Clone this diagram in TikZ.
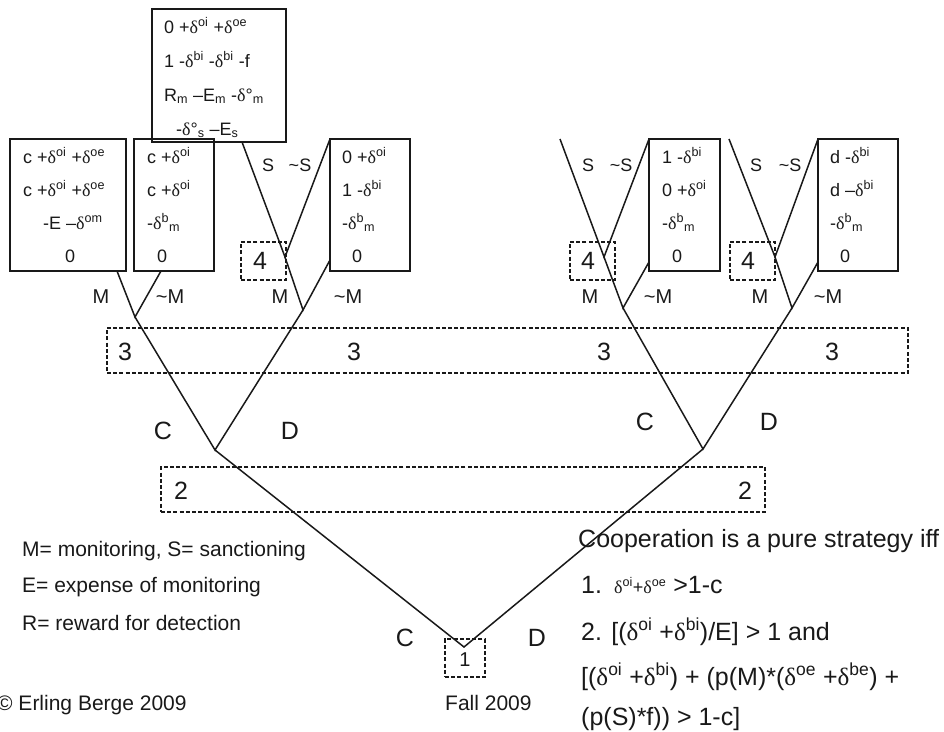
\documentclass[tikz,border=0pt]{standalone}
\usepackage{fontspec}
\setmainfont{Liberation Sans}
\newfontfamily\serf{Liberation Serif}
\newcommand\dl{{\serf δ}}
\newcommand\sps[1]{\textsuperscript{#1}}
\newcommand\sbs[1]{\textsubscript{#1}}
\usetikzlibrary{calc}
\begin{document}
\begin{tikzpicture}[x=1pt,y=-1pt,
  edge/.style={line width=1.5pt, black!90},
  paybox/.style={draw, line width=1.5pt, black!90, inner sep=0pt, rectangle},
  infoset/.style={draw, line width=1.3pt, black!90, dash pattern=on 4pt off 2.2pt, inner sep=0pt, rectangle},
  bt/.style={anchor=base west, inner sep=0pt, text=black!90, font=\fontsize{18}{20}\selectfont},
  mlab/.style={inner sep=0pt, text=black!90, font=\fontsize{20}{22}\selectfont},
  slab/.style={inner sep=0pt, text=black!90, font=\fontsize{18}{20}\selectfont},
  big/.style={inner sep=0pt, text=black!90, font=\fontsize{25}{28}\selectfont},
  lt/.style={anchor=base west, inner sep=0pt, text=black!90, font=\fontsize{21}{24}\selectfont},
  rt/.style={anchor=base west, inner sep=0pt, text=black!90, font=\fontsize{25}{28}\selectfont},
]
\useasboundingbox (0,0) rectangle (944,731);

% payoff boxes
\node[paybox, minimum width=134pt, minimum height=133pt] (bT) at (219,75.5) {};
\node[paybox, minimum width=116pt, minimum height=132pt] (bA) at (68,205) {};
\node[paybox, minimum width=80pt, minimum height=132pt] (bB) at (174,205) {};
\node[paybox, minimum width=80pt, minimum height=132pt] (bC) at (370,205) {};
\node[paybox, minimum width=71pt, minimum height=132pt] (bD) at (684.5,205) {};
\node[paybox, minimum width=80pt, minimum height=132pt] (bE) at (858,205) {};

% information sets
\node[infoset, minimum width=45pt, minimum height=38pt] (i4a) at (263.5,261) {};
\node[infoset, minimum width=45pt, minimum height=38pt] (i4b) at (592.5,261) {};
\node[infoset, minimum width=45pt, minimum height=38pt] (i4c) at (752.5,261) {};
\node[infoset, minimum width=801pt, minimum height=45pt] (i3) at (507.5,350.5) {};
\node[infoset, minimum width=604pt, minimum height=45pt] (i2) at (463,489.5) {};
\node[infoset, minimum width=40pt, minimum height=38pt] (i1) at (465,658) {};

% tree vertices
\coordinate (n1) at (464,647);
\coordinate (n2L) at (215,450);
\coordinate (n2R) at (703,449);
\coordinate (n3a) at (135,317);
\coordinate (n3b) at (303,310);
\coordinate (n3c) at (623,308);
\coordinate (n3d) at (792,308);
\coordinate (n4a) at (285,257);
\coordinate (n4b) at (604,257);
\coordinate (n4c) at (775,257);
% connector ends
\coordinate (eAm) at (117,271);
\coordinate (eBm) at (161,271);
\coordinate (eCm) at (330,260);
\coordinate (eDm) at (649,262);
\coordinate (eEm) at (818,262);
\coordinate (eTs) at (242,142);
\coordinate (eCs) at (330,139);
\coordinate (eDs) at (649,139);
\coordinate (eEs) at (818,139);
\coordinate (fS4b) at (560,139);
\coordinate (fS4c) at (729,139);

\draw[edge] (n2L) -- (n1) -- (n2R);
\draw[edge] (n3a) -- (n2L) -- (n3b);
\draw[edge] (n3c) -- (n2R) -- (n3d);
\draw[edge] (eAm) -- (n3a) -- (eBm);
\draw[edge] (n4a) -- (n3b) -- (eCm);
\draw[edge] (n4b) -- (n3c) -- (eDm);
\draw[edge] (n4c) -- (n3d) -- (eEm);
\draw[edge] (eTs) -- (n4a) -- (eCs);
\draw[edge] (fS4b) -- (n4b) -- (eDs);
\draw[edge] (fS4c) -- (n4c) -- (eEs);

% payoff texts
\node[bt] (tT1) at (164,33) {0 +\dl\sps{oi} +\dl\sps{oe}};
\node[bt] (tT2) at (164,67) {1 -\dl\sps{bi} -\dl\sps{bi} -f};
\node[bt] (tT3) at (164,101) {R\sbs{m} –E\sbs{m} -\dl°\sbs{m}};
\node[bt] (tT4) at (176,135) {-\dl°\sbs{s} –E\sbs{s}};

\node[bt] (tA1) at (23,163) {c +\dl\sps{oi} +\dl\sps{oe}};
\node[bt] (tA2) at (23,196) {c +\dl\sps{oi} +\dl\sps{oe}};
\node[bt] (tA3) at (43,229) {-E –\dl\sps{om}};
\node[bt] (tA4) at (65,262) {0};

\node[bt] (tB1) at (147,163) {c +\dl\sps{oi}};
\node[bt] (tB2) at (147,196) {c +\dl\sps{oi}};
\node[bt] (tB3) at (147,229) {-\dl\sps{b}\sbs{m}};
\node[bt] (tB4) at (157,262) {0};

\node[bt] (tC1) at (342,163) {0 +\dl\sps{oi}};
\node[bt] (tC2) at (342,196) {1 -\dl\sps{bi}};
\node[bt] (tC3) at (342,229) {-\dl\sps{b}\sbs{m}};
\node[bt] (tC4) at (352,262) {0};

\node[bt] (tD1) at (662,163) {1 -\dl\sps{bi}};
\node[bt] (tD2) at (662,196) {0 +\dl\sps{oi}};
\node[bt] (tD3) at (662,229) {-\dl\sps{b}\sbs{m}};
\node[bt] (tD4) at (672,262) {0};

\node[bt] (tE1) at (830,163) {d -\dl\sps{bi}};
\node[bt] (tE2) at (830,196) {d –\dl\sps{bi}};
\node[bt] (tE3) at (830,229) {-\dl\sps{b}\sbs{m}};
\node[bt] (tE4) at (840,262) {0};

% move labels
\node[slab] (s1) at (268,165) {S};
\node[slab] (ns1) at (300,165) {\textasciitilde S};
\node[slab] (s2) at (588,165) {S};
\node[slab] (ns2) at (621,165) {\textasciitilde S};
\node[slab] (s3) at (756,165) {S};
\node[slab] (ns3) at (790,165) {\textasciitilde S};

\node[mlab] (m1) at (101,297) {M};
\node[mlab] (nm1) at (170,297) {\textasciitilde M};
\node[mlab] (m2) at (280,297) {M};
\node[mlab] (nm2) at (348,297) {\textasciitilde M};
\node[mlab] (m3) at (590,297) {M};
\node[mlab] (nm3) at (658,297) {\textasciitilde M};
\node[mlab] (m4) at (760,297) {M};
\node[mlab] (nm4) at (828,297) {\textasciitilde M};

\node[big] (f4a) at (260,261) {4};
\node[big] (f4b) at (588,261) {4};
\node[big] (f4c) at (748,261) {4};

\node[big] (p3a) at (125,352) {3};
\node[big] (p3b) at (354,352) {3};
\node[big] (p3c) at (604,352) {3};
\node[big] (p3d) at (832,352) {3};

\node[big] (cL) at (163,431) {C};
\node[big] (dL) at (290,431) {D};
\node[big] (cR) at (645,422) {C};
\node[big] (dR) at (769,422) {D};

\node[big] (p2a) at (181,491) {2};
\node[big] (p2b) at (745,491) {2};

\node[big] (c0) at (405,638) {C};
\node[big] (d0) at (537,638) {D};
\node[inner sep=0pt, text=black!90, font=\fontsize{20}{22}\selectfont] (p1) at (465,660) {1};

% legend
\node[lt] (l1) at (22,556) {M= monitoring, S= sanctioning};
\node[lt] (l2) at (22,592) {E= expense of monitoring};
\node[lt] (l3) at (22,630) {R= reward for detection};
\node[lt] (l4) at (-3,710) {© Erling Berge 2009};
\node[lt] (l5) at (445,710) {Fall 2009};

% conditions
\node[rt] (r0) at (578,547) {Cooperation is a pure strategy iff};
\node[rt] (r1) at (581,593) {1.\hspace{12pt}{\fontsize{18}{20}\selectfont\dl\sps{oi}+\dl\sps{oe}} >1-c};
\node[rt] (r2) at (581,640) {2. [(\dl\sps{oi} +\dl\sps{bi})/E] > 1 and};
\node[rt] (r3) at (581,685) {[(\dl\sps{oi} +\dl\sps{bi}) + (p(M)*(\dl\sps{oe} +\dl\sps{be}) +};
\node[rt] (r4) at (581,725) {(p(S)*f)) > 1-c]};
\end{tikzpicture}
\end{document}
